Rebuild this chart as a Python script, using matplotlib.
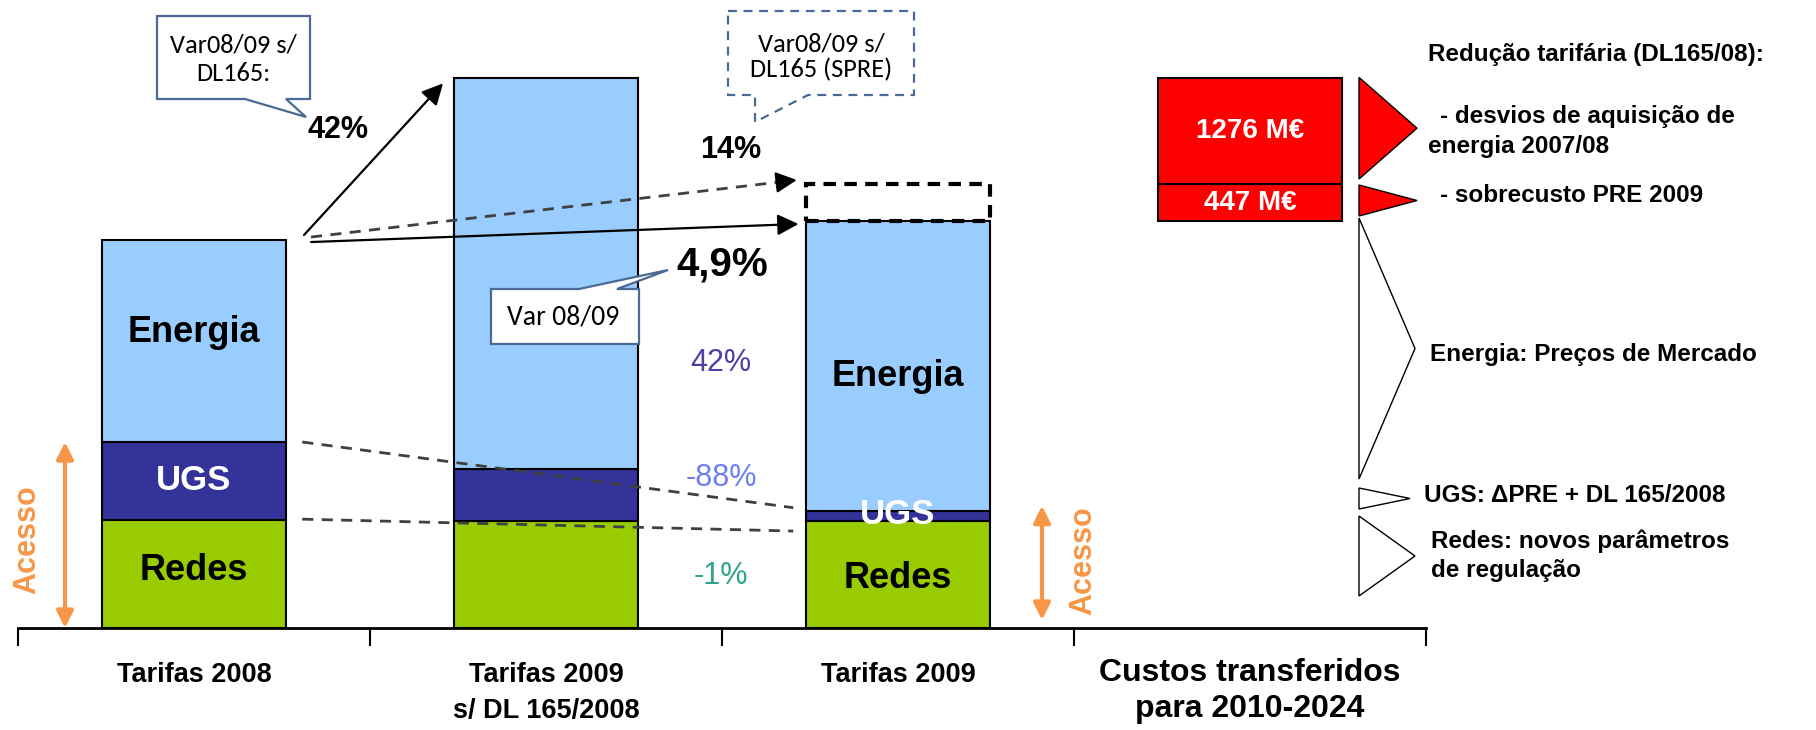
import matplotlib
matplotlib.use("Agg")
import matplotlib.pyplot as plt
from matplotlib.patches import Polygon
from matplotlib import font_manager as fm
import numpy as np

# values in M€ (the two red boxes give the scale)
categories = ["Tarifas 2008", "Tarifas 2009\ns/ DL 165/2008", "Tarifas 2009",
              "Custos transferidos\npara 2010-2024"]
redes = [1305, 1292, 1292]
ugs = [942, 628, 125]
energia = [2440, 4720, 3500]
transferido = [447, 1276]            # sobrecusto PRE 2009, desvios 2007/08
transferido_txt = ["447 M€", "1276 M€"]
var_segmentos = ["42%", "-88%", "-1%"]   # energia, ugs, redes (2009 vs 2008)
var_total = ["42%", "14%", "4,9%"]

GREEN = "#99CC00"
DBLUE = "#333399"
LBLUE = "#99CCFF"
RED = "#FF0000"
ORANGE = "#F79646"
SLATE = "#4A6A94"

names = {f.name for f in fm.fontManager.ttflist}
SANS = "Liberation Sans"
if "Liberation Sans Narrow" in names:
    NARROW, CAT_SIZE = "Liberation Sans Narrow", 23
else:
    NARROW, CAT_SIZE = "Liberation Sans", 19.5
CALLOUT = "Carlito" if "Carlito" in names else "Lato"

W_PX, H_PX = 1816, 730
UPX = 447 / 37.0          # M€ per pixel
fig = plt.figure(figsize=(W_PX / 100, H_PX / 100), dpi=100)
ax = fig.add_axes([18 / W_PX, (H_PX - 628) / H_PX, 1408 / W_PX, 628 / H_PX])
ax.set_xlim(-0.5, 3.5)
ax.set_ylim(0, 628 * UPX)


def fx(x):
    return x / W_PX


def fy(y):
    return 1 - y / H_PX


def px_x(x):
    return (x - 18) / 352 - 0.5


def px_y(y):
    return (628 - y) * UPX


redes = np.array(redes)
ugs = np.array(ugs)
energia = np.array(energia)
total = redes + ugs + energia
x = np.arange(3)
w = 0.525
bar_kw = dict(width=w, edgecolor="black", linewidth=1.5, zorder=2)

ax.bar(x, redes, color=GREEN, **bar_kw)
ax.bar(x, ugs, bottom=redes, color=DBLUE, **bar_kw)
ax.bar(x, energia, bottom=redes + ugs, color=LBLUE, **bar_kw)
# Tarifas 2009 without the PRE deferral
ax.bar(2, transferido[0], bottom=total[2], fill=False, edgecolor="black",
       linestyle=(0, (3, 2)), linewidth=3, width=w, zorder=2)
# costs transferred to 2010-2024
ax.bar(3, transferido[0], bottom=total[2], color=RED, **bar_kw)
ax.bar(3, transferido[1], bottom=total[2] + transferido[0], color=RED, **bar_kw)

# axis
for s in ["left", "top", "right"]:
    ax.spines[s].set_visible(False)
ax.spines["bottom"].set_linewidth(2)
ax.set_yticks([])
ax.set_xticks([-0.5, 0.5, 1.5, 2.5, 3.5])
ax.set_xticklabels([])
ax.tick_params(axis="x", length=13, width=1.5, direction="out")

for i, c in enumerate(categories):
    if i == 3:
        ax.text(i, px_y(673), c.split("\n")[0], ha="center", va="center", fontsize=23,
                fontweight="bold", family=SANS, clip_on=False)
        ax.text(i, px_y(709), c.split("\n")[1], ha="center", va="center", fontsize=23,
                fontweight="bold", family=SANS, clip_on=False)
    else:
        for k, line in enumerate(c.split("\n")):
            ax.text(i, px_y(675 + 36 * k), line, ha="center", va="center",
                    fontsize=CAT_SIZE, fontweight="bold", family=NARROW, clip_on=False)

# segment labels
lab_kw = dict(ha="center", va="center", fontweight="bold", family=SANS, zorder=5)
ax.text(0, px_y(333), "Energia", fontsize=26, **lab_kw)
ax.text(0, px_y(480), "UGS", fontsize=25, color="white", **lab_kw)
ax.text(0, px_y(570), "Redes", fontsize=26, **lab_kw)
ax.text(2, px_y(377), "Energia", fontsize=26, **lab_kw)
ax.text(2, px_y(515), "UGS", fontsize=25, color="white", **lab_kw)
ax.text(2, px_y(578), "Redes", fontsize=26, **lab_kw)

ax.text(3, total[2] + transferido[0] + transferido[1] / 2, transferido_txt[1],
        color="white", fontsize=20, **lab_kw)
ax.text(3, total[2] + transferido[0] / 2, transferido_txt[0],
        color="white", fontsize=20, **lab_kw)

# dashed guides between Tarifas 2008 and Tarifas 2009
ax.plot([w / 2 + 0.045, 2 - w / 2 - 0.035], [redes[0] + ugs[0], redes[2] + ugs[2] + 3 * UPX],
        ls=(0, (4, 3)), color="#404040", lw=2, zorder=3)
ax.plot([w / 2 + 0.045, 2 - w / 2 - 0.035], [redes[0] + 10, redes[2] - 10 * UPX],
        ls=(0, (4, 3)), color="#404040", lw=2, zorder=3)

# variation arrows
arr = dict(arrowstyle="-|>", color="black", lw=1.6, mutation_scale=32,
           shrinkA=0, shrinkB=0)
ax.annotate("", xy=(1 - w / 2 - 0.03, total[1] - 5 * UPX),
            xytext=(w / 2 + 0.05, total[0] + 5 * UPX), arrowprops=arr, zorder=4)
ax.annotate("", xy=(2 - w / 2 - 0.02, total[2] - 3 * UPX),
            xytext=(w / 2 + 0.07, total[0] - 2 * UPX), arrowprops=arr, zorder=4)
p0 = np.array([w / 2 + 0.07, total[0] + 3 * UPX])
p1 = np.array([2 - w / 2 - 0.025, total[2] + transferido[0] + 4 * UPX])
pm = p1 - (p1 - p0) * 0.04
ax.plot([p0[0], pm[0]], [p0[1], pm[1]], ls=(0, (4, 3)), color="#404040", lw=2, zorder=4)
ax.annotate("", xy=tuple(p1), xytext=tuple(pm), arrowprops=arr, zorder=4)

# access arrows
acc = dict(arrowstyle="<|-|>", color=ORANGE, lw=3, mutation_scale=25,
           shrinkA=0, shrinkB=0)
ax.annotate("", xy=(px_x(65), 0), xytext=(px_x(65), redes[0] + ugs[0]),
            arrowprops=acc, annotation_clip=False)
ax.annotate("", xy=(px_x(1042), 8 * UPX), xytext=(px_x(1042), redes[2] + ugs[2] + 5 * UPX),
            arrowprops=acc, annotation_clip=False)
ax.text(px_x(27), px_y(540), "Acesso", rotation=90, color=ORANGE, fontsize=22,
        fontweight="bold", family=SANS, ha="center", va="center", clip_on=False)
ax.text(px_x(1083), px_y(561), "Acesso", rotation=90, color=ORANGE, fontsize=22,
        fontweight="bold", family=SANS, ha="center", va="center", clip_on=False)

# percentages
fig.text(fx(338), fy(130), var_total[0], fontsize=22, fontweight="bold",
         family=SANS, ha="center", va="center")
fig.text(fx(731), fy(150), var_total[1], fontsize=22, fontweight="bold",
         family=SANS, ha="center", va="center")
fig.text(fx(722), fy(265), var_total[2], fontsize=29, fontweight="bold",
         family=SANS, ha="center", va="center")
seg_cols = ["#4B3FA8", "#6C7FEF", "#2EA58A"]
for s, yy, col in zip(var_segmentos, [363, 478, 576], seg_cols):
    fig.text(fx(721), fy(yy), s, fontsize=22, color=col, family=SANS,
             ha="center", va="center")


# callouts (pixel layout)
def callout(pts, dashed=False):
    poly = Polygon([(fx(a), fy(b)) for a, b in pts], closed=True,
                   transform=fig.transFigure, facecolor="white", edgecolor=SLATE,
                   lw=1.6, linestyle=(0, (4, 3)) if dashed else "-", zorder=6)
    fig.add_artist(poly)


callout([(157, 16), (310, 16), (310, 99), (286, 99), (306, 117), (245, 99), (157, 99)])
fig.text(fx(233), fy(59), "Var08/09 s/\nDL165:", fontsize=19, family=CALLOUT,
         ha="center", va="center", linespacing=1.3, zorder=7)
callout([(728, 11), (914, 11), (914, 95), (808, 95), (755, 122), (755, 95), (728, 95)],
        dashed=True)
fig.text(fx(821), fy(57), "Var08/09 s/\nDL165 (SPRE)", fontsize=19, family=CALLOUT,
         ha="center", va="center", linespacing=1.1, zorder=7)
callout([(491, 289), (579, 289), (668, 270), (617, 289), (639, 289), (639, 344), (491, 344)])
fig.text(fx(563), fy(317), "Var 08/09", fontsize=20, family=CALLOUT,
         ha="center", va="center", zorder=7)

# brackets on the right
xb, xt = px_x(1359), px_x(1417)
b0 = total[2]
b1 = b0 + transferido[0]
b2 = b1 + transferido[1]
tri = [((b0 + 5 * UPX, b1 - 1 * UPX), RED), ((b1 + 5 * UPX, b2 + 1 * UPX), RED)]
for (lo, hi), col in tri:
    ax.add_patch(Polygon([(xb, lo), (xb, hi), (xt, (lo + hi) / 2)], closed=True,
                         facecolor=col, edgecolor="black", lw=1, clip_on=False))
for top, bot, tipx in [(218, 479, 1415), (488, 509, 1410), (516, 596, 1415)]:
    ax.add_patch(Polygon([(xb, px_y(top)), (xb, px_y(bot)), (px_x(tipx), px_y((top + bot) / 2))],
                         closed=True, facecolor="white", edgecolor="black", lw=1,
                         clip_on=False))

side = [(1428, 55, "Redução tarifária (DL165/08):"),
        (1440, 116, "- desvios de aquisição de"),
        (1428, 146, "energia 2007/08"),
        (1440, 196, "- sobrecusto PRE 2009"),
        (1430, 354, "Energia: Preços de Mercado"),
        (1424, 495, "UGS: ΔPRE + DL 165/2008"),
        (1431, 541, "Redes: novos parâmetros"),
        (1431, 571, "de regulação")]
for xx, yy, s in side:
    fig.text(fx(xx), fy(yy), s, fontsize=17.5, fontweight="bold", family=SANS,
             ha="left", va="center")

fig.savefig("out.png", dpi=100)
